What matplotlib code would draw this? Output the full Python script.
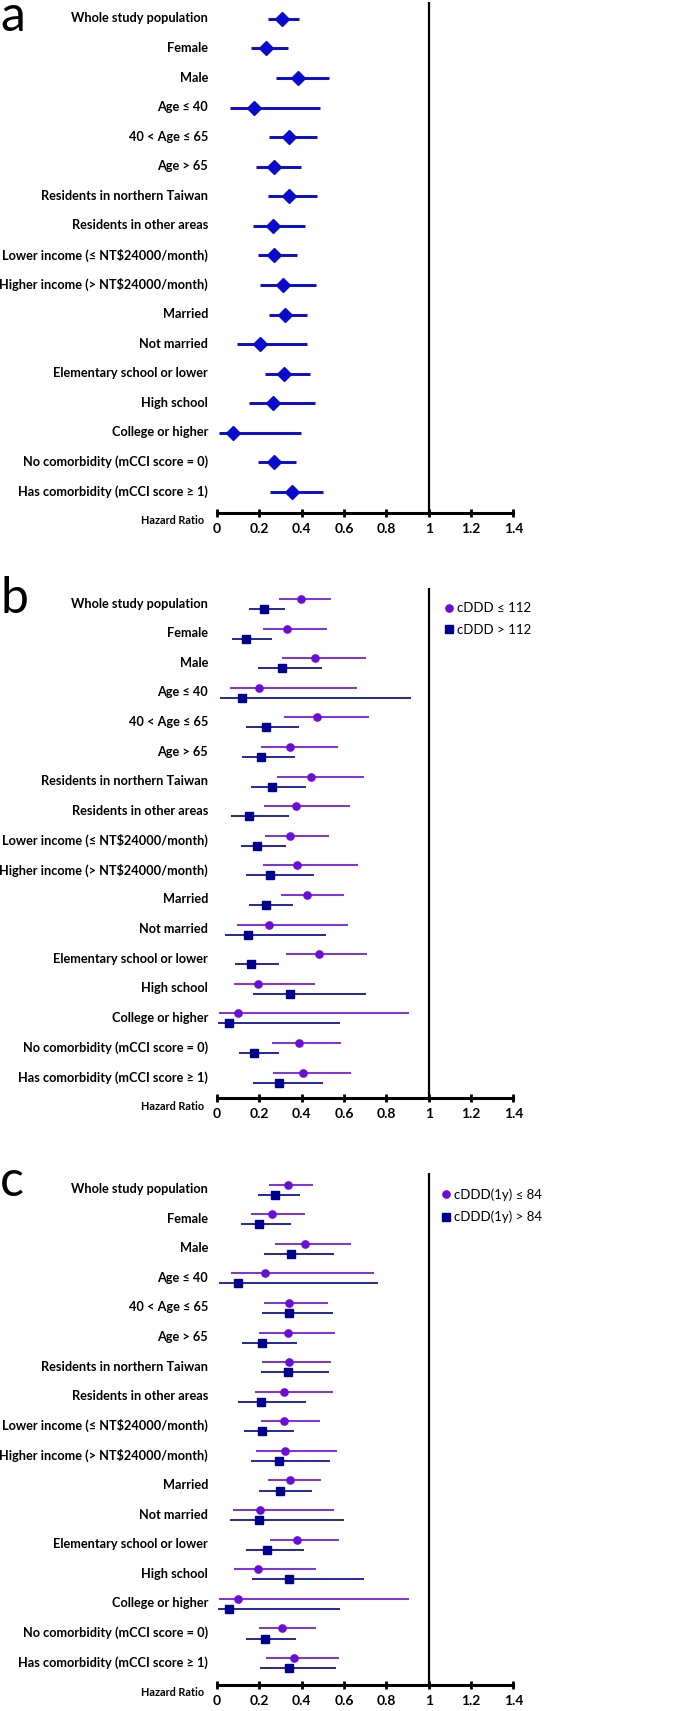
import matplotlib
matplotlib.use("Agg")
import matplotlib.pyplot as plt
from matplotlib.lines import Line2D
import numpy as np

# === DATA (hazard ratios) ===
groups = [
    "Whole study population", "Female", "Male", "Age \u2264 40", "40 < Age \u2264 65",
    "Age > 65", "Residents in northern Taiwan", "Residents in other areas",
    "Lower income (\u2264 NT$24000/month)", "Higher income (> NT$24000/month)",
    "Married", "Not married", "Elementary school or lower", "High school",
    "College or higher", "No comorbidity (mCCI score = 0)",
    "Has comorbidity (mCCI score \u2265 1)",
]

# panel a: whole cohort
a_hr = [0.306, 0.230, 0.384, 0.173, 0.342, 0.269, 0.339, 0.266, 0.268, 0.310, 0.323, 0.203, 0.315, 0.266, 0.074, 0.269, 0.354]
a_lo = [0.241, 0.161, 0.280, 0.060, 0.246, 0.183, 0.241, 0.172, 0.192, 0.205, 0.247, 0.094, 0.225, 0.153, 0.009, 0.194, 0.252]
a_hi = [0.389, 0.335, 0.528, 0.485, 0.472, 0.398, 0.471, 0.414, 0.378, 0.468, 0.427, 0.427, 0.439, 0.463, 0.398, 0.373, 0.499]

# panel b: cDDD <= 112 / > 112
b1_hr = [0.398, 0.332, 0.463, 0.200, 0.474, 0.343, 0.443, 0.372, 0.346, 0.380, 0.424, 0.247, 0.480, 0.194, 0.098, 0.389, 0.406]
b1_lo = [0.294, 0.216, 0.307, 0.060, 0.315, 0.208, 0.282, 0.220, 0.227, 0.216, 0.301, 0.096, 0.324, 0.080, 0.008, 0.258, 0.263]
b1_hi = [0.540, 0.518, 0.702, 0.661, 0.718, 0.573, 0.693, 0.630, 0.531, 0.665, 0.598, 0.619, 0.709, 0.461, 0.909, 0.586, 0.631]
b2_hr = [0.220, 0.137, 0.309, 0.120, 0.231, 0.209, 0.260, 0.150, 0.191, 0.250, 0.233, 0.145, 0.161, 0.343, 0.055, 0.173, 0.293]
b2_lo = [0.151, 0.072, 0.192, 0.014, 0.139, 0.118, 0.162, 0.066, 0.112, 0.137, 0.153, 0.039, 0.087, 0.169, 0.003, 0.104, 0.172]
b2_hi = [0.321, 0.260, 0.494, 0.917, 0.387, 0.369, 0.420, 0.339, 0.328, 0.458, 0.357, 0.517, 0.294, 0.702, 0.581, 0.294, 0.499]

# panel c: cDDD(1y) <= 84 / > 84
c1_hr = [0.334, 0.260, 0.416, 0.225, 0.340, 0.334, 0.340, 0.317, 0.318, 0.323, 0.345, 0.205, 0.380, 0.195, 0.098, 0.306, 0.364]
c1_lo = [0.246, 0.162, 0.274, 0.068, 0.220, 0.200, 0.214, 0.181, 0.208, 0.184, 0.243, 0.076, 0.252, 0.080, 0.008, 0.200, 0.230]
c1_hi = [0.455, 0.414, 0.633, 0.742, 0.526, 0.556, 0.540, 0.548, 0.488, 0.565, 0.493, 0.551, 0.575, 0.466, 0.909, 0.468, 0.576]
c2_hr = [0.276, 0.200, 0.348, 0.101, 0.340, 0.214, 0.334, 0.206, 0.214, 0.291, 0.298, 0.197, 0.238, 0.342, 0.055, 0.227, 0.339]
c2_lo = [0.194, 0.113, 0.220, 0.009, 0.211, 0.120, 0.209, 0.101, 0.126, 0.159, 0.200, 0.063, 0.139, 0.167, 0.003, 0.139, 0.205]
c2_hi = [0.391, 0.350, 0.551, 0.762, 0.546, 0.378, 0.531, 0.420, 0.362, 0.534, 0.447, 0.602, 0.409, 0.696, 0.581, 0.373, 0.561]

xticks = [0, 0.2, 0.4, 0.6, 0.8, 1, 1.2, 1.4]
xtick_labels = ["0", "0.2", "0.4", "0.6", "0.8", "1", "1.2", "1.4"]

BLUE = "#0A0ACD"
PURPLE = "#6A0DD8"
NAVY = "#00008F"
FONT = ["Lato", "DejaVu Sans"]

plt.rcParams["font.family"] = FONT

W, H = 700, 1711
fig = plt.figure(figsize=(W / 100, H / 100), dpi=100)


def make_axes(top_px, bottom_px):
    left, right = 217, 513.3
    ax = fig.add_axes([left / W, 1 - bottom_px / H, (right - left) / W, (bottom_px - top_px) / H])
    return ax


def style_axes(ax, ylim, axis_px):
    rows = np.arange(len(groups))
    ax.set_xlim(0, 1.4)
    ax.set_ylim(*ylim)
    ax.axvline(1, color="black", lw=1.6, zorder=1)
    for s in ["top", "right", "left"]:
        ax.spines[s].set_visible(False)
    ax.spines["bottom"].set_linewidth(2.2)
    ax.set_xticks(xticks)
    ax.set_xticklabels(xtick_labels, fontsize=10, fontweight="bold")
    ax.tick_params(axis="x", direction="inout", length=6, width=2, pad=4)
    ax.set_yticks(rows - 0.05)
    ax.set_yticklabels(groups, fontsize=9.2, fontweight="bold")
    ax.tick_params(axis="y", length=0, pad=6.5)
    ax.set_facecolor("none")
    fig.text(204 / W, 1 - (axis_px + 8) / H, "Hazard Ratio", ha="right", va="center",
             fontsize=7.8, fontweight="bold")


rows = np.arange(len(groups))

# --- panel a ---
ax_a = make_axes(2, 513)
ax_a.hlines(rows, a_lo, a_hi, color=BLUE, lw=2.1, zorder=2)
ax_a.plot(a_hr, rows, "D", color=BLUE, ms=7, zorder=3, clip_on=False)
style_axes(ax_a, (16.71, -0.57), 513)
fig.text(0.0, 1 - 31 / H, "a", fontsize=36, va="baseline", ha="left")

# --- panel b ---
ax_b = make_axes(588, 1098)
off = 0.17
ax_b.hlines(rows - off, b1_lo, b1_hi, color=PURPLE, lw=1.2, zorder=2)
ax_b.plot(b1_hr, rows - off, "o", color=PURPLE, ms=5.2, zorder=3, clip_on=False)
ax_b.hlines(rows + off, b2_lo, b2_hi, color=NAVY, lw=1.2, zorder=2)
ax_b.plot(b2_hr, rows + off, "s", color=NAVY, ms=5.2, zorder=3, clip_on=False)
style_axes(ax_b, (16.69, -0.54), 1098)
fig.text(0.0, 1 - 613 / H, "b", fontsize=36, va="baseline", ha="left")

# --- panel c ---
ax_c = make_axes(1173, 1685)
ax_c.hlines(rows - off, c1_lo, c1_hi, color=PURPLE, lw=1.2, zorder=2)
ax_c.plot(c1_hr, rows - off, "o", color=PURPLE, ms=5.2, zorder=3, clip_on=False)
ax_c.hlines(rows + off, c2_lo, c2_hi, color=NAVY, lw=1.2, zorder=2)
ax_c.plot(c2_hr, rows + off, "s", color=NAVY, ms=5.2, zorder=3, clip_on=False)
style_axes(ax_c, (16.74, -0.56), 1685)
fig.text(0.0, 1 - 1196 / H, "c", fontsize=36, va="baseline", ha="left")


def add_legend(ax, labels, x_anchor, y_anchor):
    handles = [
        Line2D([], [], marker="o", color=PURPLE, ls="none", ms=5.2),
        Line2D([], [], marker="s", color=NAVY, ls="none", ms=5.2),
    ]
    ax.legend(handles, labels, loc="upper left", bbox_to_anchor=(x_anchor, y_anchor),
              frameon=False, handlelength=0.6, handletextpad=0.3, borderpad=0,
              borderaxespad=0.3, labelspacing=0.75, fontsize=9.5)


add_legend(ax_b, ["cDDD \u2264 112", "cDDD > 112"], 0.755, 0.98)
add_legend(ax_c, ["cDDD(1y) \u2264 84", "cDDD(1y) > 84"], 0.745, 0.978)

fig.savefig("out.png", dpi=100)
